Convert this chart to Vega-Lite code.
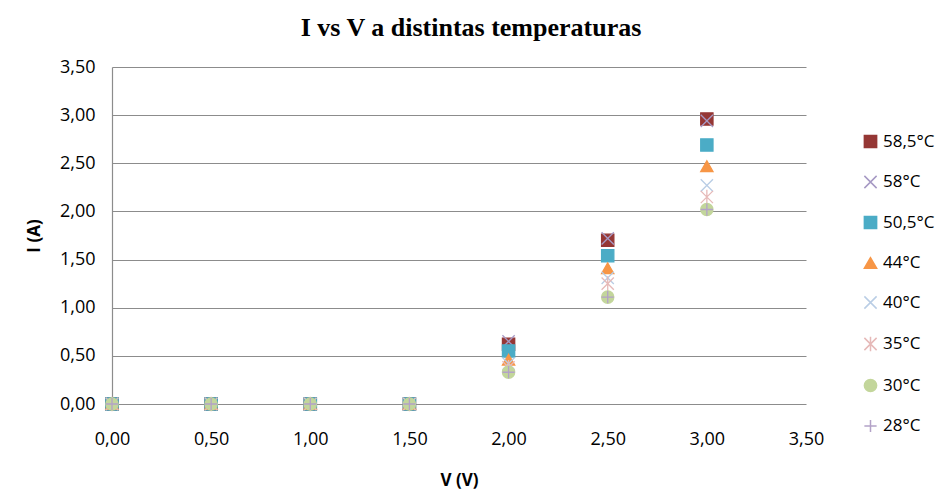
{
  "$schema": "https://vega.github.io/schema/vega-lite/v6.json",
  "width": 694,
  "height": 337,
  "autosize": {"type": "none"},
  "padding": {"left": 112, "top": 67, "right": 135, "bottom": 87},
  "background": "white",
  "title": {
    "text": "I vs V a distintas temperaturas",
    "font": "Liberation Serif",
    "fontSize": 26,
    "fontWeight": "bold",
    "color": "#000000",
    "anchor": "middle",
    "dx": 12,
    "offset": 17
  },
  "config": {
    "view": {"stroke": null},
    "font": "Open Sans"
  },
  "data": {
    "values": [
      {"s": "58,5°C", "k": 1, "V": 0, "I": 0}, {"s": "58,5°C", "k": 1, "V": 0.5, "I": 0}, {"s": "58,5°C", "k": 1, "V": 1, "I": 0}, {"s": "58,5°C", "k": 1, "V": 1.5, "I": 0}, {"s": "58,5°C", "k": 1, "V": 2, "I": 0.62}, {"s": "58,5°C", "k": 1, "V": 2.5, "I": 1.70}, {"s": "58,5°C", "k": 1, "V": 3, "I": 2.96},
      {"s": "58°C", "k": 2, "V": 0, "I": 0}, {"s": "58°C", "k": 2, "V": 0.5, "I": 0}, {"s": "58°C", "k": 2, "V": 1, "I": 0}, {"s": "58°C", "k": 2, "V": 1.5, "I": 0}, {"s": "58°C", "k": 2, "V": 2, "I": 0.65}, {"s": "58°C", "k": 2, "V": 2.5, "I": 1.72}, {"s": "58°C", "k": 2, "V": 3, "I": 2.94},
      {"s": "50,5°C", "k": 3, "V": 0, "I": 0}, {"s": "50,5°C", "k": 3, "V": 0.5, "I": 0}, {"s": "50,5°C", "k": 3, "V": 1, "I": 0}, {"s": "50,5°C", "k": 3, "V": 1.5, "I": 0}, {"s": "50,5°C", "k": 3, "V": 2, "I": 0.55}, {"s": "50,5°C", "k": 3, "V": 2.5, "I": 1.54}, {"s": "50,5°C", "k": 3, "V": 3, "I": 2.69},
      {"s": "44°C", "k": 4, "V": 0, "I": 0}, {"s": "44°C", "k": 4, "V": 0.5, "I": 0}, {"s": "44°C", "k": 4, "V": 1, "I": 0}, {"s": "44°C", "k": 4, "V": 1.5, "I": 0}, {"s": "44°C", "k": 4, "V": 2, "I": 0.46}, {"s": "44°C", "k": 4, "V": 2.5, "I": 1.41}, {"s": "44°C", "k": 4, "V": 3, "I": 2.47},
      {"s": "40°C", "k": 5, "V": 0, "I": 0}, {"s": "40°C", "k": 5, "V": 0.5, "I": 0}, {"s": "40°C", "k": 5, "V": 1, "I": 0}, {"s": "40°C", "k": 5, "V": 1.5, "I": 0}, {"s": "40°C", "k": 5, "V": 2, "I": 0.42}, {"s": "40°C", "k": 5, "V": 2.5, "I": 1.31}, {"s": "40°C", "k": 5, "V": 3, "I": 2.27},
      {"s": "35°C", "k": 6, "V": 0, "I": 0}, {"s": "35°C", "k": 6, "V": 0.5, "I": 0}, {"s": "35°C", "k": 6, "V": 1, "I": 0}, {"s": "35°C", "k": 6, "V": 1.5, "I": 0}, {"s": "35°C", "k": 6, "V": 2, "I": 0.38}, {"s": "35°C", "k": 6, "V": 2.5, "I": 1.25}, {"s": "35°C", "k": 6, "V": 3, "I": 2.15},
      {"s": "30°C", "k": 7, "V": 0, "I": 0}, {"s": "30°C", "k": 7, "V": 0.5, "I": 0}, {"s": "30°C", "k": 7, "V": 1, "I": 0}, {"s": "30°C", "k": 7, "V": 1.5, "I": 0}, {"s": "30°C", "k": 7, "V": 2, "I": 0.33}, {"s": "30°C", "k": 7, "V": 2.5, "I": 1.11}, {"s": "30°C", "k": 7, "V": 3, "I": 2.02},
      {"s": "28°C", "k": 8, "V": 0, "I": 0}, {"s": "28°C", "k": 8, "V": 0.5, "I": 0}, {"s": "28°C", "k": 8, "V": 1, "I": 0}, {"s": "28°C", "k": 8, "V": 1.5, "I": 0}, {"s": "28°C", "k": 8, "V": 2, "I": 0.33}, {"s": "28°C", "k": 8, "V": 2.5, "I": 1.11}, {"s": "28°C", "k": 8, "V": 3, "I": 2.02}
    ]
  },
  "mark": {"type": "point", "filled": true, "size": 150, "strokeWidth": 1.3, "opacity": 1},
  "encoding": {
    "x": {
      "field": "V", "type": "quantitative",
      "scale": {"domain": [0, 3.5], "nice": false, "zero": true},
      "axis": {
        "values": [0, 0.5, 1, 1.5, 2, 2.5, 3, 3.5],
        "labelExpr": "replace(format(datum.value, '.2f'), '.', ',')",
        "grid": false, "ticks": false, "domain": false,
        "labelFlush": false, "labelOverlap": false,
        "labelFontSize": 18, "labelColor": "#000000", "labelFont": "Open Sans", "labelPadding": 26,
        "title": "V (V)", "titleFontSize": 17, "titleFontWeight": "bold", "titleColor": "#000000", "titlePadding": 24,
        "titleFont": "Open Sans"
      }
    },
    "y": {
      "field": "I", "type": "quantitative",
      "scale": {"domain": [0, 3.5], "nice": false},
      "axis": {
        "values": [0, 0.5, 1, 1.5, 2, 2.5, 3, 3.5],
        "labelExpr": "replace(format(datum.value, '.2f'), '.', ',')",
        "labelFlush": false, "labelOverlap": false,
        "grid": true, "gridColor": "#8c8c8c", "gridWidth": 1.2,
        "ticks": false, "domain": true, "domainColor": "#8c8c8c", "domainWidth": 1.2,
        "labelFontSize": 18, "labelColor": "#000000", "labelFont": "Open Sans", "labelPadding": 17,
        "title": "I (A)", "titleFontSize": 17, "titleFontWeight": "bold", "titleColor": "#000000", "titlePadding": 16,
        "titleFont": "Open Sans"
      }
    },
    "order": {"field": "k", "type": "quantitative"},
    "color": {
      "field": "s", "type": "nominal",
      "scale": {
        "domain": ["58,5°C", "58°C", "50,5°C", "44°C", "40°C", "35°C", "30°C", "28°C"],
        "range": ["#953735", "#A699C4", "#4BACC6", "#F79646", "#B9CDE5", "#E6B9B8", "#C3D69B", "#B3A2C7"]
      },
      "legend": {
        "orient": "none", "legendX": 750, "legendY": 66,
        "title": null, "rowPadding": 21.5,
        "labelFontSize": 17, "labelColor": "#000000", "labelFont": "Open Sans",
        "symbolSize": 150, "labelOffset": 4
      }
    },
    "stroke": {
      "field": "s", "type": "nominal",
      "scale": {
        "domain": ["58,5°C", "58°C", "50,5°C", "44°C", "40°C", "35°C", "30°C", "28°C"],
        "range": ["#953735", "#A699C4", "#4BACC6", "#F79646", "#B9CDE5", "#E6B9B8", "#C3D69B", "#B3A2C7"]
      },
      "legend": null
    },
    "shape": {
      "field": "s", "type": "nominal",
      "scale": {
        "domain": ["58,5°C", "58°C", "50,5°C", "44°C", "40°C", "35°C", "30°C", "28°C"],
        "range": ["square", "M-1,-1L1,1M-1,1L1,-1", "square", "triangle-up", "M-1,-1L1,1M-1,1L1,-1", "M-1,-1L1,1M-1,1L1,-1M0,-1.2L0,1.2", "circle", "M-1,0L1,0M0,-1L0,1"]
      }
    }
  }
}
